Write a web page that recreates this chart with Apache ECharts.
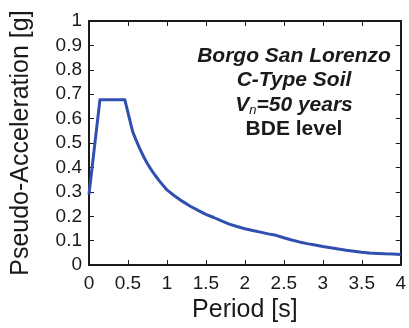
<!DOCTYPE html>
<html>
<head>
<meta charset="utf-8">
<script src="https://cdn.jsdelivr.net/npm/echarts@6/dist/echarts.min.js"></script>
<style>html,body{margin:0;padding:0;background:#fff}#c{width:409px;height:328px}</style>
</head>
<body>
<div id="c"></div>
<script>
var periods = [0, 0.14, 0.46, 0.56, 0.6, 0.65, 0.7, 0.75, 0.8, 0.85, 0.9, 1.0, 1.1, 1.2, 1.3, 1.4, 1.5, 1.6, 1.7, 1.8, 1.9, 2.0, 2.1, 2.2, 2.3, 2.4, 2.5, 2.6, 2.7, 2.8, 2.9, 3.0, 3.1, 3.2, 3.3, 3.4, 3.5, 3.6, 3.7, 3.8, 3.9, 4.0];
var pseudoAcc = [0.29, 0.677, 0.677, 0.547, 0.515, 0.478, 0.445, 0.415, 0.39, 0.367, 0.346, 0.308, 0.283, 0.261, 0.241, 0.224, 0.208, 0.195, 0.181, 0.168, 0.158, 0.149, 0.142, 0.135, 0.128, 0.122, 0.112, 0.103, 0.095, 0.088, 0.082, 0.076, 0.071, 0.066, 0.061, 0.057, 0.053, 0.050, 0.048, 0.046, 0.045, 0.043];
var xTickLabels = ['0', '0.5', '1', '1.5', '2', '2.5', '3', '3.5', '4'];
var yTickLabels = ['0', '0.1', '0.2', '0.3', '0.4', '0.5', '0.6', '0.7', '0.8', '0.9', '1'];
var annotationLines = ['Borgo San Lorenzo', 'C-Type Soil', 'V', 'n', '=50 years', 'BDE level'];

var FONT = 'Liberation Sans, Arial, sans-serif';
var chart = echarts.init(document.getElementById('c'));
var lineStyle = {color: '#1a1a1a', width: 2};
var tickStyle = {show: true, inside: true, length: 5, lineStyle: {color: '#1a1a1a', width: 1}};
chart.setOption({
  animation: false,
  backgroundColor: '#fff',
  grid: {left: 89, right: 4, top: 21, bottom: 59, containLabel: false},
  title: {
    left: 289, top: 39, textAlign: 'center',
    text: '{bi|' + annotationLines[0] + '}\n{bi|' + annotationLines[1] + '}\n{bi|' + annotationLines[2] + '}{sub|' + annotationLines[3] + '}{bi|' + annotationLines[4] + '}\n{b|' + annotationLines[5] + '}',
    textStyle: {
      fontFamily: FONT, color: '#1a1a1a', lineHeight: 24.3,
      rich: {
        bi: {fontSize: 21, fontStyle: 'italic', fontWeight: 'bold', fontFamily: FONT, color: '#1a1a1a', lineHeight: 24.3},
        sub: {fontSize: 13, fontStyle: 'italic', fontWeight: 'normal', fontFamily: FONT, color: '#1a1a1a', verticalAlign: 'bottom', padding: [8, 0, 0, 0], lineHeight: 24.3},
        b: {fontSize: 21, fontWeight: 'bold', fontFamily: FONT, color: '#1a1a1a', lineHeight: 24.3}
      }
    }
  },
  xAxis: [{
    type: 'value', min: 0, max: 4, interval: 0.5, position: 'bottom',
    name: 'Period [s]', nameLocation: 'middle', nameGap: 31,
    nameTextStyle: {fontFamily: FONT, fontSize: 25, color: '#1a1a1a'},
    axisLine: {show: true, onZero: false, lineStyle: lineStyle},
    axisTick: tickStyle,
    axisLabel: {fontFamily: FONT, fontSize: 19, color: '#1a1a1a', margin: 9,
      formatter: function (v) { return xTickLabels[Math.round(v / 0.5)]; }},
    splitLine: {show: false}
  }, {
    type: 'value', min: 0, max: 4, interval: 0.5, position: 'top',
    axisLine: {show: true, onZero: false, lineStyle: lineStyle},
    axisTick: tickStyle, axisLabel: {show: false}, splitLine: {show: false}
  }],
  yAxis: [{
    type: 'value', min: 0, max: 1, interval: 0.1, position: 'left',
    name: 'Pseudo-Acceleration [g]', nameLocation: 'middle', nameGap: 55,
    nameTextStyle: {fontFamily: FONT, fontSize: 25, color: '#1a1a1a'},
    axisLine: {show: true, onZero: false, lineStyle: lineStyle},
    axisTick: tickStyle,
    axisLabel: {fontFamily: FONT, fontSize: 19, color: '#1a1a1a', margin: 7,
      formatter: function (v) { return yTickLabels[Math.round(v / 0.1)]; }},
    splitLine: {show: false}
  }, {
    type: 'value', min: 0, max: 1, interval: 0.1, position: 'right',
    axisLine: {show: true, onZero: false, lineStyle: lineStyle},
    axisTick: tickStyle, axisLabel: {show: false}, splitLine: {show: false}
  }],
  series: [{
    type: 'line', xAxisIndex: 0, yAxisIndex: 0,
    data: periods.map(function (t, i) { return [t, pseudoAcc[i]]; }),
    smooth: false, showSymbol: false, symbol: 'none',
    lineStyle: {color: '#3050b0', width: 3, join: 'round'}
  }]
});
</script>
</body>
</html>
